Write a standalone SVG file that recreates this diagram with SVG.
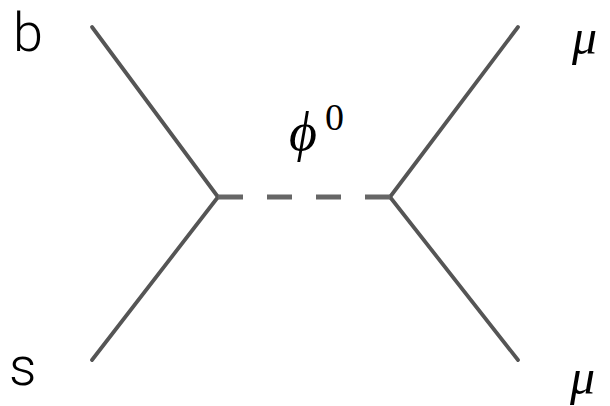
<svg xmlns="http://www.w3.org/2000/svg" width="610" height="406" viewBox="0 0 610 406">
<style>
.line{stroke:#555;stroke-width:3.8;fill:none;stroke-linecap:round}
.dash{stroke:#666;stroke-width:5;fill:none;stroke-dasharray:25 24}
.lbl{font-family:Roboto,"Noto Sans","DejaVu Sans",sans-serif;font-weight:300;fill:#000}
.math{font-family:"Liberation Serif","DejaVu Serif",serif;font-style:italic;fill:#000}
</style>
<rect width="610" height="406" fill="#fff"/>
<g id="connectors">
<line class="line" x1="92" y1="27" x2="218" y2="197"/>
<line class="line" x1="92" y1="360" x2="218" y2="197"/>
<line class="line" x1="518" y1="27" x2="390" y2="197"/>
<line class="line" x1="518" y1="360" x2="390" y2="197"/>
<line class="dash" x1="218" y1="197" x2="390" y2="197"/>
</g>
<g id="b"><text class="lbl" x="13" y="51" font-size="54">b</text></g>
<g id="s"><text class="lbl" x="9" y="385" font-size="54">s</text></g>
<g id="mu1"><text class="math" x="572" y="54" font-size="50">μ</text></g>
<g id="mu2"><text class="math" x="570" y="394" font-size="50">μ</text></g>
<g id="phi"><text class="math" x="289" y="150" font-size="54">ϕ<tspan font-style="normal" font-size="38" dx="8" dy="-20">0</tspan></text></g>
</svg>
